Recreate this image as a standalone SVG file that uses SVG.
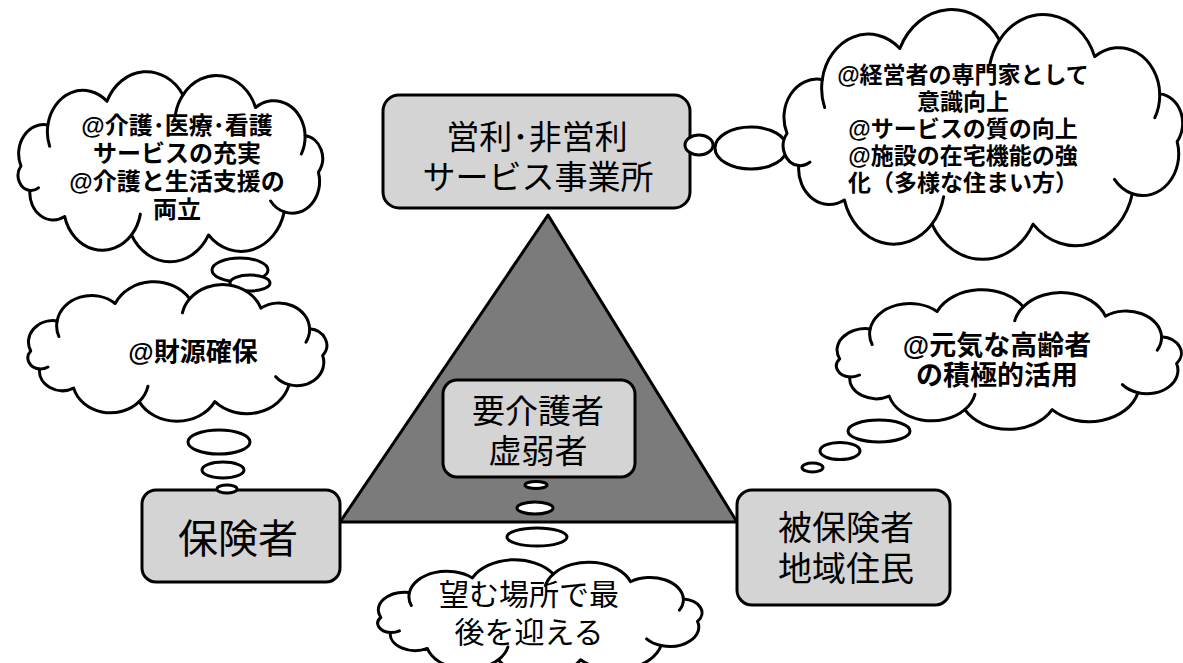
<svg xmlns="http://www.w3.org/2000/svg" xmlns:xlink="http://www.w3.org/1999/xlink" width="1183" height="663" viewBox="0 0 1183 663">
<style>
.box{fill:#d4d4d4;stroke:#000;stroke-width:3}
.tail{fill:#fff;stroke:#000;stroke-width:3}
.cl{fill:#fff;stroke:#000;stroke-width:3;stroke-linejoin:round;vector-effect:non-scaling-stroke}
.fold{fill:none;stroke:#000;stroke-width:3;stroke-linecap:round;vector-effect:non-scaling-stroke}
.bt{font-family:"Liberation Sans","Noto Sans CJK JP",sans-serif;text-anchor:middle;fill:#000}
.ct{font-family:"Liberation Sans","Noto Sans CJK JP",sans-serif;text-anchor:middle;font-weight:bold;fill:#000}
</style>
<defs>
<g id="cloud">
<path class="cl" d="M8 50 A15.5 15.5 0 0 1 24.6 28.2 A21.9 21.9 0 0 1 61.1 15.6 A26.7 26.7 0 0 1 108 12.2 A25.7 25.7 0 0 1 152.8 18.9 A19.3 19.3 0 0 1 183.4 33.9 A12 12 0 0 1 191.6 53.3 A16.9 16.9 0 0 1 170.5 74.4 A27.4 27.4 0 0 1 123.8 86.7 A27 27 0 0 1 76.2 86.7 A24 24 0 0 1 35 76.9 A14.5 14.5 0 0 1 13.5 63 A8 8 0 0 1 8 50 Z"/>
<path class="fold" d="M24.6 28.2 A21.9 21.9 0 0 0 25.7 39.5 M183.4 33.9 A19.3 19.3 0 0 1 181.1 43.6 M170.5 74.4 A16.9 16.9 0 0 1 162.1 68.6 M76.2 86.7 A24 24 0 0 0 81.7 75.6 M13.5 63 A8 8 0 0 0 18.8 61.6 M108 12.2 A25.7 25.7 0 0 0 103.4 22.3"/>
</g>
</defs>
<rect width="1183" height="663" fill="#fff"/>

<g id="triangle">
<polygon points="548,215 340,522 737,522" fill="#7b7b7b" stroke="#000" stroke-width="3" stroke-linejoin="round"/>
</g>

<g id="node-provider">
<rect class="box" x="383" y="95" width="307" height="113" rx="16"/>
<text class="bt" font-size="33" x="537" y="149">営利･非営利</text>
<text class="bt" font-size="33" x="538" y="189">サービス事業所</text>
</g>
<g id="node-care">
<rect class="box" x="443" y="380" width="192" height="97" rx="14" fill="#dedede"/>
<text class="bt" font-size="33" x="538" y="423">要介護者</text>
<text class="bt" font-size="33" x="538" y="463">虚弱者</text>
</g>
<g id="node-insurer">
<rect class="box" x="142" y="490" width="198" height="92" rx="14"/>
<text class="bt" font-size="40" x="238" y="553">保険者</text>
</g>
<g id="node-insured">
<rect class="box" x="737" y="490" width="213" height="115" rx="15"/>
<text class="bt" font-size="34" x="846" y="540">被保険者</text>
<text class="bt" font-size="34" x="846" y="581">地域住民</text>
</g>

<g id="connectors">
<ellipse class="tail" cx="699" cy="145" rx="14" ry="10"/>
<ellipse class="tail" cx="751" cy="148" rx="36" ry="21"/>
<ellipse class="tail" cx="240" cy="270" rx="28" ry="12"/>
<ellipse class="tail" cx="250" cy="283" rx="20" ry="8"/>
<ellipse class="tail" cx="219" cy="442" rx="31" ry="12"/>
<ellipse class="tail" cx="223" cy="470" rx="21" ry="8"/>
<ellipse class="tail" cx="227" cy="489" rx="10" ry="4"/>
<ellipse class="tail" cx="879" cy="431" rx="31" ry="11"/>
<ellipse class="tail" cx="840" cy="451" rx="20" ry="8.5"/>
<ellipse class="tail" cx="812.5" cy="467.5" rx="10.5" ry="4.5"/>
<ellipse class="tail" cx="536" cy="485" rx="11" ry="3.5"/>
<ellipse class="tail" cx="535" cy="508" rx="18" ry="6"/>
<ellipse class="tail" cx="537" cy="537" rx="30" ry="9"/>
</g>

<g id="cloud-topleft">
<use xlink:href="#cloud" href="#cloud" transform="translate(8,72) scale(1.62,1.88)"/>
<text class="ct" font-size="24" x="177" y="134">@介護･医療･看護</text>
<text class="ct" font-size="24" x="177" y="162">サービスの充実</text>
<text class="ct" font-size="24" x="177" y="190">@介護と生活支援の</text>
<text class="ct" font-size="24" x="177" y="218">両立</text>
</g>
<g id="cloud-left">
<use xlink:href="#cloud" href="#cloud" transform="translate(18,282) scale(1.59,1.38)"/>
<text class="ct" font-size="26" x="193" y="361">@財源確保</text>
</g>
<g id="cloud-topright">
<use xlink:href="#cloud" href="#cloud" transform="translate(770,10) scale(2.125,2.47)"/>
<text class="ct" font-size="23" x="963" y="83">@経営者の専門家として</text>
<text class="ct" font-size="23" x="963" y="110">意識向上</text>
<text class="ct" font-size="23" x="963" y="137">@サービスの質の向上</text>
<text class="ct" font-size="23" x="963" y="164">@施設の在宅機能の強</text>
<text class="ct" font-size="23" x="963" y="191">化（多様な住まい方）</text>
</g>
<g id="cloud-right">
<use xlink:href="#cloud" href="#cloud" transform="translate(825,290) scale(1.835,1.38)"/>
<text class="ct" font-size="27" x="997" y="355">@元気な高齢者</text>
<text class="ct" font-size="27" x="997" y="385">の積極的活用</text>
</g>
<g id="cloud-bottom">
<use xlink:href="#cloud" href="#cloud" transform="translate(367,560) scale(1.725,1.15)"/>
<text class="bt" font-size="30" x="529" y="605">望む場所で最</text>
<text class="bt" font-size="30" x="529" y="643">後を迎える</text>
</g>
</svg>
